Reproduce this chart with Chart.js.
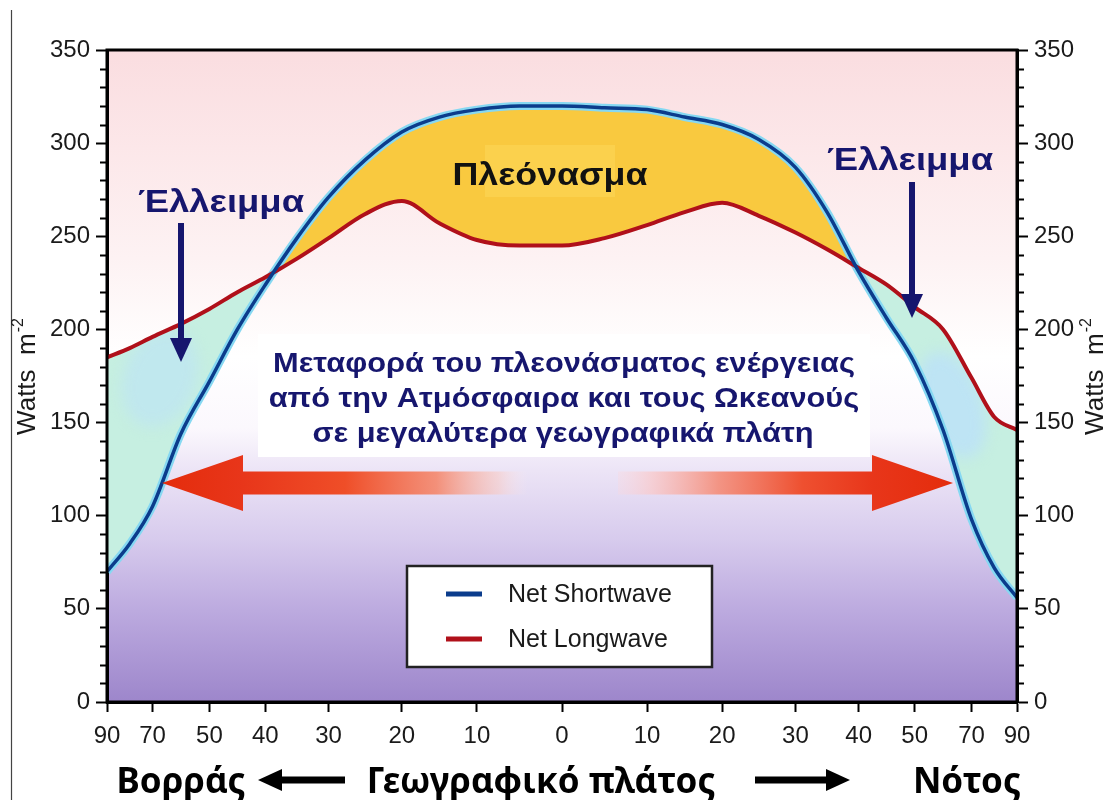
<!DOCTYPE html>
<html>
<head>
<meta charset="utf-8">
<script src="https://cdn.jsdelivr.net/npm/chart.js@4.4.0/dist/chart.umd.min.js"></script>
<style>
  html, body { margin: 0; padding: 0; background: #fff; }
  #wrap { width: 1108px; height: 800px; }
</style>
</head>
<body>
<div id="wrap"><canvas id="chart" width="1108" height="800"></canvas></div>
<script>
// latitude samples, north positive (drawn on the left)
const latitudes = [90, 80, 70, 60, 50, 45, 40, 35, 30, 25, 20, 15, 10, 5, 0,
  -5, -10, -15, -20, -25, -30, -35, -40, -45, -50, -60, -70, -80, -90];
const netShortwave = [70, 85, 105, 144, 172, 200, 224, 249, 271, 291, 306, 314, 318, 320, 320,
  319, 318, 314, 310, 302, 287, 263, 231, 206, 182, 146, 98, 72, 56];
const netLongwave = [185, 190, 196, 203, 211, 220, 228, 238, 249, 262, 269, 257, 248, 245, 245,
  249, 256, 263, 268, 261, 252, 243, 233, 224, 212, 200, 174, 153, 146];

// x tick labels and y ticks
const tickLatitudes = [90, 70, 50, 40, 30, 20, 10, 0, -10, -20, -30, -40, -50, -70, -90];
const yMajorStep = 50;
const yMinorStep = 10;
const yMax = 350;

// the original axis is stretched near the equator (roughly sine of latitude)
const scaleLat = [0, 10, 20, 30, 40, 50, 70, 90];
const scalePos = [0, 0.187, 0.352, 0.513, 0.652, 0.775, 0.90, 1];

function latToPos(lat) {
  const a = Math.abs(lat);
  let p = 1;
  for (let i = 0; i < scaleLat.length - 1; i++) {
    if (a <= scaleLat[i + 1]) {
      const t = (a - scaleLat[i]) / (scaleLat[i + 1] - scaleLat[i]);
      p = scalePos[i] + t * (scalePos[i + 1] - scalePos[i]);
      break;
    }
  }
  return lat > 0 ? -p : p;
}

const swPoints = latitudes.map((lat, i) => ({ x: latToPos(lat), y: netShortwave[i] }));
const lwPoints = latitudes.map((lat, i) => ({ x: latToPos(lat), y: netLongwave[i] }));

const SANS = '"Liberation Sans", Arial, sans-serif';
const NAVY = '#16166e';

// text in the original is a little wider than Arial, so stretch it
function wideText(ctx, text, cx, y, sx) {
  ctx.save();
  ctx.translate(cx, y);
  ctx.scale(sx, 1);
  ctx.fillText(text, 0, 0);
  ctx.restore();
}

function bigArrow(ctx, tipX, baseX, endX, y, shaft, head, stops) {
  const g = ctx.createLinearGradient(tipX, 0, endX, 0);
  stops.forEach(s => g.addColorStop(s[0], s[1]));
  ctx.fillStyle = g;
  ctx.beginPath();
  ctx.moveTo(tipX, y);
  ctx.lineTo(baseX, y - head / 2);
  ctx.lineTo(baseX, y - shaft / 2);
  ctx.lineTo(endX, y - shaft / 2);
  ctx.lineTo(endX, y + shaft / 2);
  ctx.lineTo(baseX, y + shaft / 2);
  ctx.lineTo(baseX, y + head / 2);
  ctx.closePath();
  ctx.fill();
}

function downArrow(ctx, x, y0, y1) {
  ctx.fillStyle = NAVY;
  ctx.fillRect(x - 3, y0, 6, y1 - y0 - 20);
  ctx.beginPath();
  ctx.moveTo(x - 11, y1 - 24);
  ctx.lineTo(x + 11, y1 - 24);
  ctx.lineTo(x, y1);
  ctx.closePath();
  ctx.fill();
}

function hArrow(ctx, x0, x1, y) {
  // x1 is the tip
  const dir = x1 > x0 ? 1 : -1;
  ctx.fillStyle = '#000';
  ctx.fillRect(Math.min(x0, x1 - dir * 20), y - 3.5, Math.abs(x1 - dir * 20 - x0), 7);
  ctx.beginPath();
  ctx.moveTo(x1, y);
  ctx.lineTo(x1 - dir * 24, y - 11);
  ctx.lineTo(x1 - dir * 24, y + 11);
  ctx.closePath();
  ctx.fill();
}

function wattsTitle(ctx, cx, cy) {
  ctx.save();
  ctx.translate(cx, cy);
  ctx.rotate(-Math.PI / 2);
  ctx.fillStyle = '#1a1a1a';
  ctx.textBaseline = 'alphabetic';
  ctx.textAlign = 'left';
  const main = 'Watts  m';
  ctx.font = '26px ' + SANS;
  const w1 = ctx.measureText(main).width;
  ctx.font = '16px ' + SANS;
  const w2 = ctx.measureText('-2').width;
  const x0 = -(w1 + w2) / 2;
  ctx.font = '26px ' + SANS;
  ctx.fillText(main, x0, 9);
  ctx.font = '16px ' + SANS;
  ctx.fillText('-2', x0 + w1 + 1, -3);
  ctx.restore();
}

// region where longwave is above shortwave, from the library's own line paths
function clipDeficit(chart) {
  const { ctx, chartArea: a } = chart;
  const sw = chart.getDatasetMeta(2).dataset;
  const lw = chart.getDatasetMeta(1).dataset;
  sw.updateControlPoints(a, 'x');
  lw.updateControlPoints(a, 'x');
  ctx.beginPath();
  sw.path(ctx);
  ctx.lineTo(a.right, a.top);
  ctx.lineTo(a.left, a.top);
  ctx.closePath();
  ctx.clip();
  ctx.beginPath();
  lw.path(ctx);
  ctx.lineTo(a.right, a.bottom);
  ctx.lineTo(a.left, a.bottom);
  ctx.closePath();
  ctx.clip();
}

const decor = {
  id: 'decor',
  beforeDraw(chart) {
    const { ctx, chartArea: a } = chart;
    ctx.save();
    ctx.fillStyle = '#fff';
    ctx.fillRect(0, 0, chart.width, chart.height);
    ctx.strokeStyle = '#444';
    ctx.lineWidth = 1.2;
    ctx.beginPath();
    ctx.moveTo(11.5, 10);
    ctx.lineTo(11.5, chart.height);
    ctx.stroke();

    const g = ctx.createLinearGradient(0, a.top, 0, a.bottom);
    g.addColorStop(0, '#fadde0');
    g.addColorStop(0.15, '#fce7e9');
    g.addColorStop(0.32, '#fdf2f3');
    g.addColorStop(0.47, '#ffffff');
    g.addColorStop(0.58, '#fbf8fd');
    g.addColorStop(0.645, '#ece4f6');
    g.addColorStop(0.75, '#d7cbed');
    g.addColorStop(0.86, '#bcaadf');
    g.addColorStop(1, '#9d86cb');
    ctx.fillStyle = g;
    ctx.fillRect(a.left, a.top, a.width, a.height);

    // white panel behind the centre text
    ctx.fillStyle = '#ffffff';
    ctx.fillRect(258, 334, 612, 123);
    ctx.restore();
  },
  beforeDatasetDraw(chart, args) {
    if (args.index !== 2) return;
    // pale blue patches inside the deficit areas
    const { ctx } = chart;
    ctx.save();
    clipDeficit(chart);
    ctx.filter = 'blur(7px)';
    ctx.fillStyle = 'rgba(189,226,246,0.6)';
    ctx.beginPath();
    ctx.ellipse(160, 378, 36, 50, 0.35, 0, Math.PI * 2);
    ctx.fill();
    ctx.fillStyle = 'rgba(189,226,246,0.9)';
    ctx.beginPath();
    ctx.ellipse(952, 405, 30, 55, -0.35, 0, Math.PI * 2);
    ctx.fill();
    ctx.restore();
  },
  afterDatasetsDraw(chart) {
    const { ctx, chartArea: a } = chart;
    ctx.save();

    // frame
    ctx.strokeStyle = '#000';
    ctx.lineWidth = 3;
    ctx.strokeRect(a.left, a.top, a.width, a.height);

    // minor y ticks on both sides
    const y = chart.scales.y;
    ctx.lineWidth = 2;
    for (let v = 0; v <= yMax; v += yMinorStep) {
      if (v % yMajorStep === 0) continue;
      const py = Math.round(y.getPixelForValue(v)) + 0.5;
      ctx.beginPath();
      ctx.moveTo(a.left - 7, py);
      ctx.lineTo(a.left, py);
      ctx.moveTo(a.right, py);
      ctx.lineTo(a.right + 7, py);
      ctx.stroke();
    }

    // red transport arrows
    bigArrow(ctx, 162, 243, 528, 483, 23, 56, [
      [0, '#e42c0c'], [0.22, '#e8361a'], [0.5, '#ef4e28'],
      [0.75, 'rgba(245,130,100,0.85)'], [0.92, 'rgba(250,200,190,0.5)'], [1, 'rgba(255,235,235,0)']
    ]);
    bigArrow(ctx, 953, 872, 618, 483, 23, 56, [
      [0, '#e42c0c'], [0.24, '#e8361a'], [0.45, '#ee5030'],
      [0.7, 'rgba(244,140,120,0.9)'], [0.9, 'rgba(250,200,200,0.7)'], [1, 'rgba(252,215,220,0.3)']
    ]);

    // surplus label
    ctx.fillStyle = 'rgba(253,215,90,0.55)';
    ctx.fillRect(485, 145, 130, 52);
    ctx.fillStyle = '#111';
    ctx.font = 'bold 32px ' + SANS;
    ctx.textAlign = 'center';
    ctx.textBaseline = 'alphabetic';
    wideText(ctx, 'Πλεόνασμα', 550, 185, 1.12);

    // deficit labels
    ctx.fillStyle = NAVY;
    wideText(ctx, 'Έλλειμμα', 221, 212, 1.14);
    wideText(ctx, 'Έλλειμμα', 910, 170, 1.14);
    downArrow(ctx, 181, 223, 362);
    downArrow(ctx, 912, 182, 318);

    // transport text
    ctx.font = 'bold 28px ' + SANS;
    wideText(ctx, 'Μεταφορά του πλεονάσματος ενέργειας', 564, 372, 1.1);
    wideText(ctx, 'από την Ατμόσφαιρα και τους Ωκεανούς', 564, 407, 1.1);
    wideText(ctx, 'σε μεγαλύτερα γεωγραφικά πλάτη', 563, 442, 1.1);

    // legend box, built from the datasets
    ctx.fillStyle = '#fff';
    ctx.fillRect(407, 566, 305, 101);
    ctx.strokeStyle = '#222';
    ctx.lineWidth = 2.5;
    ctx.strokeRect(407, 566, 305, 101);
    ctx.textAlign = 'left';
    ctx.textBaseline = 'middle';
    ctx.font = '25px ' + SANS;
    chart.data.datasets.slice(0, 2).forEach((ds, i) => {
      const ly = 594 + i * 45;
      ctx.strokeStyle = ds.borderColor;
      ctx.lineWidth = 5;
      ctx.beginPath();
      ctx.moveTo(446, ly);
      ctx.lineTo(482, ly);
      ctx.stroke();
      ctx.fillStyle = '#1a1a1a';
      ctx.fillText(ds.label, 508, ly + 1);
    });
    ctx.restore();
  },
  afterDraw(chart) {
    const { ctx } = chart;
    ctx.save();
    wattsTitle(ctx, 26, 377);
    wattsTitle(ctx, 1094, 377);

    ctx.fillStyle = '#000';
    ctx.font = 'bold 35px "Noto Sans", "Open Sans", sans-serif';
    ctx.textAlign = 'center';
    ctx.textBaseline = 'alphabetic';
    ctx.fillText('Βορράς', 181, 793);
    ctx.fillText('Γεωγραφικό πλάτος', 541, 793);
    ctx.fillText('Νότος', 967, 793);
    hArrow(ctx, 345, 258, 780);
    hArrow(ctx, 755, 850, 780);
    ctx.restore();
  }
};

const yAxis = (pos) => ({
  type: 'linear',
  position: pos,
  min: 0,
  max: yMax,
  afterFit: s => { s.width = pos === 'left' ? 107 : 91; },
  ticks: {
    stepSize: yMinorStep,
    autoSkip: false,
    padding: 6,
    color: '#1a1a1a',
    font: { family: SANS, size: 24 },
    callback: v => (v % yMajorStep === 0 ? v : '')
  },
  grid: {
    drawOnChartArea: false,
    tickLength: 11,
    tickWidth: 2,
    tickColor: c => (c.tick && c.tick.value % yMajorStep === 0 ? '#000' : 'rgba(0,0,0,0)')
  },
  border: { color: '#000', width: 3 }
});

new Chart(document.getElementById('chart'), {
  type: 'line',
  data: {
    datasets: [
      {
        label: 'Net Shortwave',
        data: swPoints,
        borderColor: '#0b3c8c',
        borderWidth: 3.5,
        order: 0,
        fill: false
      },
      {
        label: 'Net Longwave',
        data: lwPoints,
        borderColor: '#b0101a',
        borderWidth: 4,
        order: 1,
        fill: false
      },
      {
        // light halo under the shortwave curve, also carries the surplus/deficit fill
        label: 'halo',
        data: swPoints,
        borderColor: '#86d8f2',
        borderWidth: 8,
        order: 2,
        fill: { target: 1, above: '#f9c93f', below: '#c6efe1' }
      }
    ]
  },
  options: {
    responsive: false,
    devicePixelRatio: 1,
    animation: false,
    layout: { padding: { top: 50, left: 0, right: 0, bottom: 0 } },
    elements: {
      point: { radius: 0 },
      line: { cubicInterpolationMode: 'monotone' }
    },
    plugins: {
      legend: { display: false },
      tooltip: { enabled: false }
    },
    scales: {
      x: {
        type: 'linear',
        min: -1,
        max: 1,
        afterFit: s => { s.height = 98; },
        afterBuildTicks: s => { s.ticks = tickLatitudes.map(l => ({ value: latToPos(l) })); },
        ticks: {
          autoSkip: false,
          maxRotation: 0,
          padding: 10,
          color: '#1a1a1a',
          font: { family: SANS, size: 24 },
          callback: (v, i) => Math.abs(tickLatitudes[i])
        },
        grid: { drawOnChartArea: false, tickLength: 10, tickWidth: 2, tickColor: '#000' },
        border: { color: '#000', width: 3 }
      },
      y: yAxis('left'),
      y2: yAxis('right')
    }
  },
  plugins: [decor]
});
</script>
</body>
</html>
